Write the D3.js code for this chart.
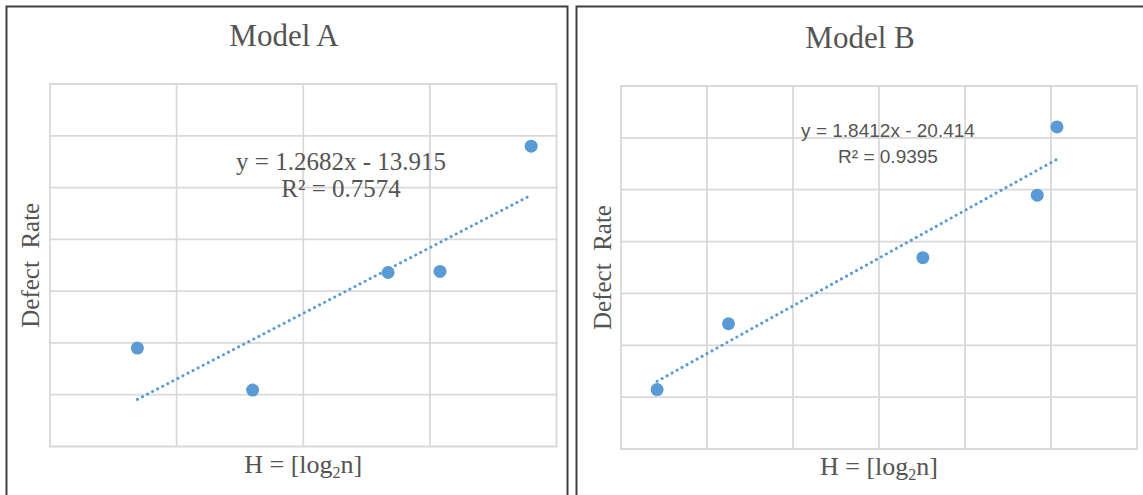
<!DOCTYPE html>
<html>
<head>
<meta charset="utf-8">
<script src="https://cdn.jsdelivr.net/npm/d3@7"></script>
<style>
  body { margin: 0; background: #fff; }
  text { fill: #545454; }
</style>
</head>
<body>
<div id="chart"></div>
<script>
// values
const hA = [11.69, 12.60, 13.67, 14.08, 14.80];
const rateA = [1.90, 1.09, 3.36, 3.38, 5.80];
const xTicksA = [11, 12, 13, 14, 15];
const yTicksA = [0, 1, 2, 3, 4, 5, 6, 7];
const trendA = [1.2682, -13.915];
const r2A = 0.7574;

const hB = [11.42, 12.25, 14.51, 15.84, 16.07];
const rateB = [0.29, 2.83, 5.38, 7.79, 10.42];
const xTicksB = [11, 12, 13, 14, 15, 16, 17];
const yTicksB = [-2, 0, 2, 4, 6, 8, 10, 12];
const trendB = [1.8412, -20.414];
const r2B = 0.9395;

const width = 1143, height = 495;
const blue = '#5b9bd5';

const svg = d3.select('#chart').append('svg')
  .attr('width', width).attr('height', height);

function panel(opt) {
  const g = svg.append('g');
  // frame
  g.append('rect')
    .attr('x', opt.frame[0]).attr('y', opt.frame[1])
    .attr('width', opt.frame[2]).attr('height', opt.frame[3])
    .attr('fill', 'none').attr('stroke', '#404040').attr('stroke-width', 2);

  const x = d3.scaleLinear().domain(d3.extent(opt.xTicks)).range([opt.plot[0], opt.plot[1]]);
  const y = d3.scaleLinear().domain(d3.extent(opt.yTicks)).range([opt.plot[3], opt.plot[2]]);

  g.append('g').selectAll('line').data(opt.xTicks).join('line')
    .attr('x1', d => x(d)).attr('x2', d => x(d))
    .attr('y1', y.range()[0]).attr('y2', y.range()[1])
    .attr('stroke', '#d9d9d9').attr('stroke-width', 1.8);
  g.append('g').selectAll('line').data(opt.yTicks).join('line')
    .attr('y1', d => y(d)).attr('y2', d => y(d))
    .attr('x1', x.range()[0] - 1).attr('x2', x.range()[1] + 1)
    .attr('stroke', '#d9d9d9').attr('stroke-width', 1.8);

  // trendline over the data span
  const [m, b] = opt.trend;
  const ext = d3.extent(opt.xs);
  g.append('line')
    .attr('x1', x(ext[0])).attr('y1', y(m * ext[0] + b))
    .attr('x2', x(ext[1])).attr('y2', y(m * ext[1] + b))
    .attr('stroke', blue).attr('stroke-width', 3)
    .attr('stroke-linecap', 'round').attr('stroke-dasharray', '0.1 5.6');

  g.append('g').selectAll('circle').data(opt.xs.map((v, i) => [v, opt.ys[i]])).join('circle')
    .attr('cx', d => x(d[0])).attr('cy', d => y(d[1]))
    .attr('r', 6.5).attr('fill', blue);

  const cx = (x.range()[0] + x.range()[1]) / 2;
  g.append('text').attr('x', opt.titleX).attr('y', opt.titleY)
    .attr('text-anchor', 'middle')
    .style('font', '31px "Liberation Serif", serif')
    .text(opt.title);

  const xt = g.append('text').attr('x', cx).attr('y', opt.xTitleY)
    .attr('text-anchor', 'middle')
    .style('font', '26px "Liberation Serif", serif');
  xt.append('tspan').text('H = [log');
  xt.append('tspan').attr('dy', 5).style('font-size', '16px').text('2');
  xt.append('tspan').attr('dy', -5).text('n]');

  g.append('text')
    .attr('transform', `translate(${opt.yTitleX},${(y.range()[0] + y.range()[1]) / 2}) rotate(-90)`)
    .attr('text-anchor', 'middle')
    .style('font', '25px "Liberation Serif", serif')
    .style('white-space', 'pre')
    .text('Defect  Rate');

  const eq = g.append('text').attr('text-anchor', 'middle').style('font', opt.eqFont);
  eq.append('tspan').attr('x', opt.eqX).attr('y', opt.eqY[0])
    .text(`y = ${m}x - ${Math.abs(b)}`);
  eq.append('tspan').attr('x', opt.eqX).attr('y', opt.eqY[1])
    .text('R² = ' + opt.r2);
}

panel({
  frame: [6.5, 6.5, 561, 500],
  plot: [50, 556.5, 84, 446.5],
  xTicks: xTicksA, yTicks: yTicksA, xs: hA, ys: rateA,
  trend: trendA, r2: r2A,
  title: 'Model A', titleX: 284, titleY: 46,
  xTitleY: 473, yTitleX: 39,
  eqFont: '25px "Liberation Serif", serif', eqX: 341, eqY: [170, 197]
});

panel({
  frame: [576.5, 6.5, 600, 500],
  plot: [621, 1137, 86, 449],
  xTicks: xTicksB, yTicks: yTicksB, xs: hB, ys: rateB,
  trend: trendB, r2: r2B,
  title: 'Model B', titleX: 860, titleY: 48,
  xTitleY: 475, yTitleX: 611,
  eqFont: '19px "Liberation Sans", sans-serif', eqX: 888, eqY: [136.5, 162.5]
});
</script>
</body>
</html>
